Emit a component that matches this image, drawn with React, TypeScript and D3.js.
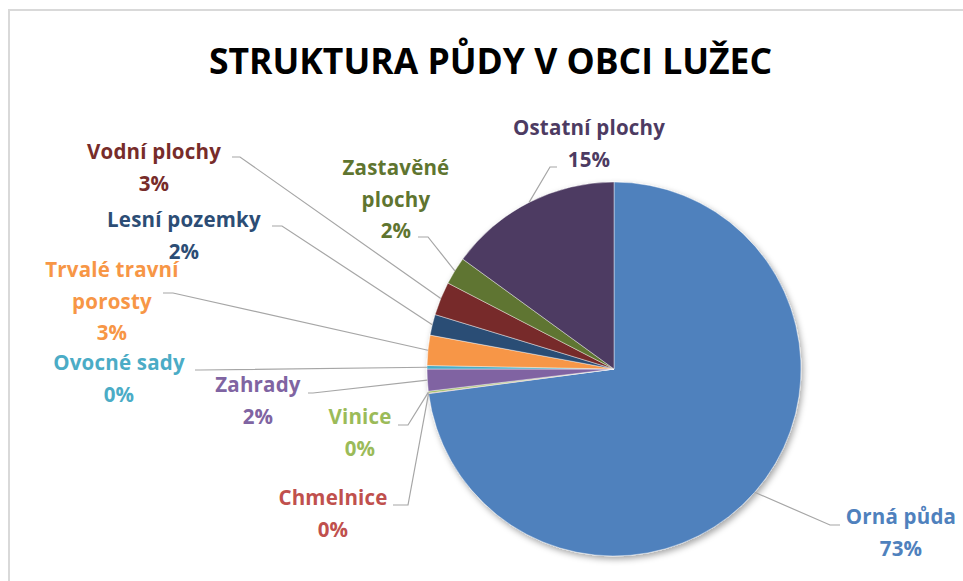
import React from "react";
import * as d3 from "d3";

const categories = [
  "Orná půda",
  "Chmelnice",
  "Vinice",
  "Zahrady",
  "Ovocné sady",
  "Trvalé travní porosty",
  "Lesní pozemky",
  "Vodní plochy",
  "Zastavěné plochy",
  "Ostatní plochy",
];
const values = [72.9, 0.05, 0.15, 1.9, 0.3, 2.6, 1.8, 2.9, 2.4, 15.0];
const labelLines = [
  ["Orná půda"],
  ["Chmelnice"],
  ["Vinice"],
  ["Zahrady"],
  ["Ovocné sady"],
  ["Trvalé travní", "porosty"],
  ["Lesní pozemky"],
  ["Vodní plochy"],
  ["Zastavěné", "plochy"],
  ["Ostatní plochy"],
];
const colors = [
  "#4F81BD",
  "#C0504D",
  "#9BBB59",
  "#8064A2",
  "#4BACC6",
  "#F79646",
  "#2C4D75",
  "#772C2A",
  "#5F7530",
  "#4D3B62",
];
const title = "STRUKTURA PŮDY V OBCI LUŽEC";

// label layout: center x, first line center y, leader start, elbow x
const labelLayout = [
  { cx: 901, cy: 517, sx: 840, sy: 525, ex: 830 },
  { cx: 333, cy: 498, sx: 393, sy: 505, ex: 408 },
  { cx: 360, cy: 417, sx: 398, sy: 425, ex: 408 },
  { cx: 258, cy: 385, sx: 308, sy: 393, ex: 313 },
  { cx: 119, cy: 363, sx: 195, sy: 370, ex: 200 },
  { cx: 112, cy: 270, sx: 163, sy: 293, ex: 173 },
  { cx: 184, cy: 220, sx: 272, sy: 226, ex: 282 },
  { cx: 154, cy: 152, sx: 232, sy: 157, ex: 240 },
  { cx: 396, cy: 168, sx: 418, sy: 237, ex: 428 },
  { cx: 589, cy: 128, sx: 557, sy: 167, ex: 550 },
];

const W = 963;
const H = 581;
const CX = 614;
const CY = 369;
const R = 187;
const LINE_H = 31.5;
const FONT = "'Open Sans', 'Liberation Sans', sans-serif";

export default function App() {
  const total = d3.sum(values);
  const pie = d3
    .pie<number>()
    .sort(null)
    .value((d) => d)(values);
  const arc = d3.arc<d3.PieArcDatum<number>>().innerRadius(0).outerRadius(R);

  return (
    <svg
      width={W}
      height={H}
      style={{ position: "absolute", left: 0, top: 0, background: "#fff" }}
    >
      <defs>
        <filter id="shadow" x="-20%" y="-20%" width="140%" height="140%">
          <feDropShadow dx="2" dy="3" stdDeviation="3" floodColor="#000" floodOpacity="0.35" />
        </filter>
      </defs>
      <rect x={0} y={0} width={W} height={H} fill="#fff" />
      <rect x={9} y={10} width={W + 10} height={H + 10} fill="#fff" stroke="#d9d9d9" strokeWidth={2} />
      <text
        x={490.5}
        y={74}
        textAnchor="middle"
        fontFamily={FONT}
        fontWeight="bold"
        fontSize={35.5}
        fill="#000"
      >
        {title}
      </text>
      <g transform={`translate(${CX},${CY})`} filter="url(#shadow)">
        {pie.map((p, i) => (
          <path key={i} d={arc(p) || ""} fill={colors[i]} stroke="#fff" strokeWidth={0.6} strokeOpacity={0.7} />
        ))}
      </g>
      {pie.map((p, i) => {
        const mid = (p.startAngle + p.endAngle) / 2;
        const px = CX + R * Math.sin(mid);
        const py = CY - R * Math.cos(mid);
        const L = labelLayout[i];
        const pts: [number, number][] = [
          [L.sx, L.sy],
          [L.ex, L.sy],
          [px, py],
        ];
        return (
          <path
            key={"l" + i}
            d={d3.line()(pts) || ""}
            fill="none"
            stroke="#a6a6a6"
            strokeWidth={1.2}
          />
        );
      })}
      {pie.map((p, i) => {
        const L = labelLayout[i];
        const pct = Math.round((values[i] / total) * 100) + "%";
        const lines = [...labelLines[i], pct];
        return (
          <text
            key={"t" + i}
            textAnchor="middle"
            fontFamily={FONT}
            fontWeight="bold"
            fontSize={20.5}
            letterSpacing={0.2}
            fill={colors[i]}
          >
            {lines.map((s, j) => (
              <tspan key={j} x={L.cx} y={L.cy + j * LINE_H + 7}>
                {s}
              </tspan>
            ))}
          </text>
        );
      })}
    </svg>
  );
}
